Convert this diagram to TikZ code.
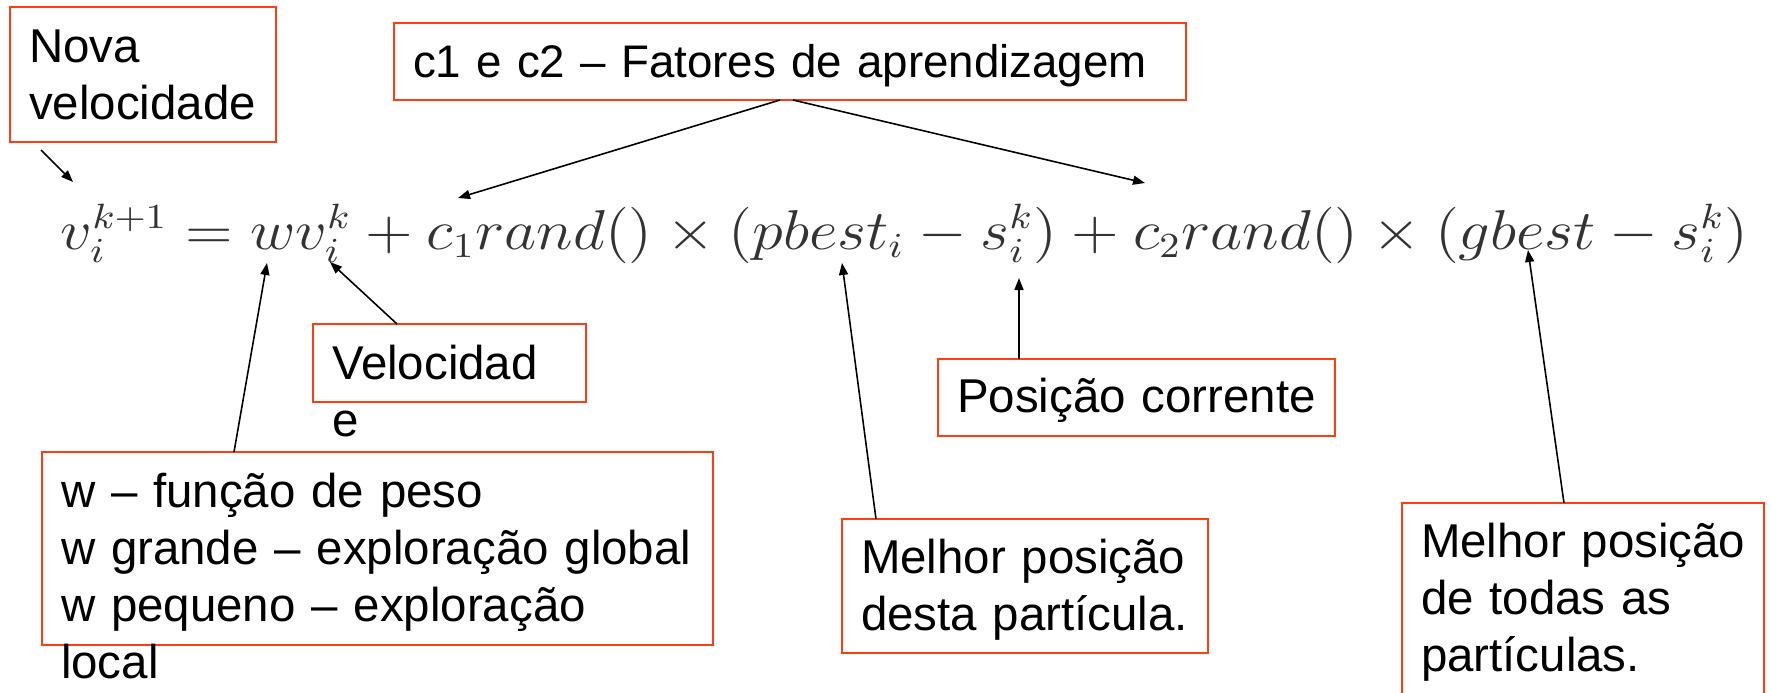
\documentclass[tikz,border=0pt]{standalone}
\usepackage[no-math]{fontspec}
\setmainfont{Liberation Sans}
\usepackage{graphicx}
\usetikzlibrary{arrows.meta}
\definecolor{boxred}{RGB}{255,61,18}

\begin{document}
\begin{tikzpicture}[
  >={Triangle[length=1.2mm, width=0.9mm]},
  every node/.style={font=\fontsize{13.5}{16.3}\selectfont}
]
% -------------------- Styles --------------------
\tikzset{
  note/.style={
    draw=boxred, line width=0.65pt, anchor=north west,
    align=left, inner ysep=0pt, inner xsep=0.19cm, outer sep=0pt
  },
  arrow/.style={->, line width=0.45pt}
}

\useasboundingbox (0,0) rectangle (17.71,-6.92);

% -------------------- Update rule --------------------
\node[anchor=base west, inner sep=0pt, text=black!80] (eq) at (0.60,-2.49) {%
  \scalebox{1}[0.9]{\resizebox{16.88cm}{!}{$v_i^{k+1} = wv_i^k + c_1rand() \times (pbest_i - s_i^k) + c_2rand() \times (gbest - s_i^k)$}}%
};

% Points of the rule that the notes point at
\coordinate (tipNova) at (0.73,-1.82);
\coordinate (tipCa)   at (4.58,-1.98);
\coordinate (tipCb)   at (11.45,-1.83);
\coordinate (tipW)    at (2.67,-2.63);
\coordinate (tipVk)   at (3.30,-2.62);
\coordinate (tipP)    at (8.42,-2.63);
\coordinate (tipS)    at (10.19,-2.78);
\coordinate (tipG)    at (15.28,-2.50);

% -------------------- Notes --------------------
\node[note, text width=2.28cm, text height=0.55cm, text depth=0.80cm]
  (nova) at (0.10,-0.07) {Nova\\velocidade};

\node[note, text width=7.54cm, text height=0.54cm, text depth=0.23cm,
      font=\fontsize{13}{16.3}\selectfont]
  (cfac) at (3.94,-0.23) {c1 e c2 – Fatores de aprendizagem};

\node[note, text width=2.35cm, text height=0.55cm, text depth=0.23cm]
  (vel) at (3.13,-3.24) {Velocidad\\e};

\node[note, text width=6.33cm, text height=0.55cm, text depth=1.38cm]
  (wbox) at (0.42,-4.52) {w – função de peso\\w grande – exploração global\\w pequeno – exploração\\local};

\node[note, text width=3.59cm, text height=0.53cm, text depth=0.24cm]
  (pos) at (9.38,-3.59) {Posição corrente};

\node[note, text width=3.28cm, text height=0.54cm, text depth=0.80cm]
  (pbest) at (8.42,-5.19) {Melhor~posição\\desta partícula.};

\node[note, text width=3.24cm, text height=0.54cm, text depth=1.50cm]
  (gbest) at (14.02,-5.03) {Melhor~posição\\de todas as\\partículas.};

% -------------------- Arrows --------------------
\draw[arrow] ([shift={(0.31,-0.08)}]nova.south west) -- (tipNova);
\draw[arrow] ([xshift=-0.10cm]cfac.south) -- (tipCa);
\draw[arrow] ([xshift=0.03cm]cfac.south) -- (tipCb);
\draw[arrow] ([xshift=0.84cm]vel.north west) -- (tipVk);
\draw[arrow] ([xshift=1.92cm]wbox.north west) -- (tipW);
\draw[arrow] ([xshift=0.34cm]pbest.north west) -- (tipP);
\draw[arrow] ([xshift=0.81cm]pos.north west) -- (tipS);
\draw[arrow] ([xshift=1.62cm]gbest.north west) -- (tipG);

\end{tikzpicture}
\end{document}
